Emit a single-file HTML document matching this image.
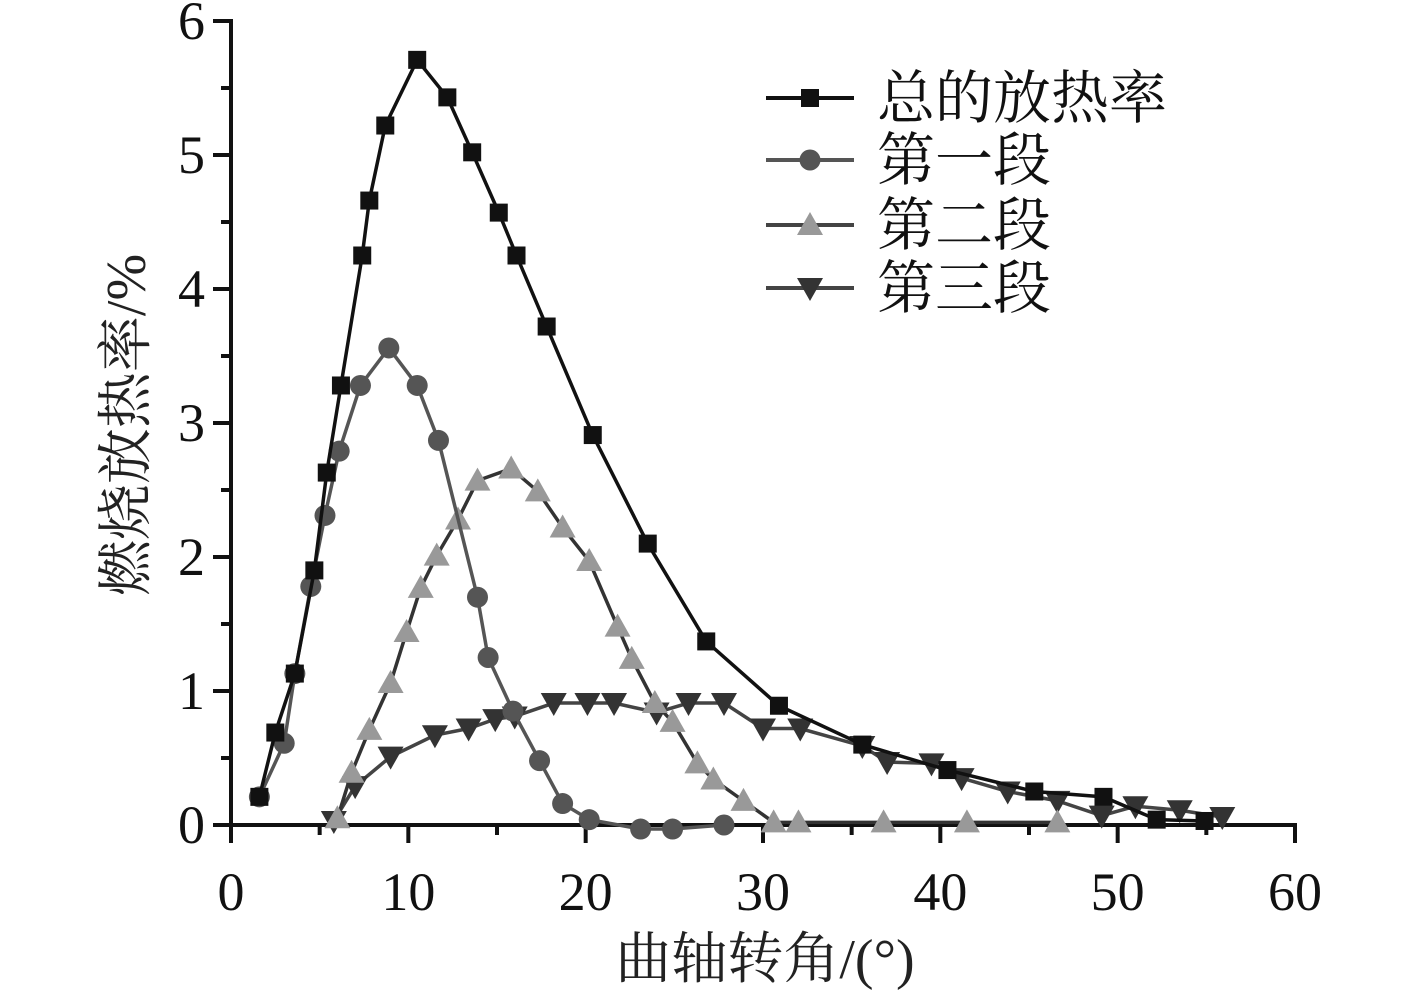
<!DOCTYPE html>
<html><head><meta charset="utf-8"><style>
html,body{margin:0;padding:0;background:#fff;}
svg text{font-family:"Liberation Serif","Noto Serif CJK SC",serif;}
</style></head><body>
<svg id="chart" width="1417" height="990" viewBox="0 0 1417 990" xmlns="http://www.w3.org/2000/svg">
<g id="axes"></g>
<g id="series"></g>
<g id="legend"></g>
<text transform="translate(145,425) rotate(-90)" text-anchor="middle" font-size="56" fill="#222">燃烧放热率/%</text>
<text x="765" y="978" text-anchor="middle" font-size="56" fill="#222">曲轴转角/(°)</text>
</svg>
<script>
const xTicks=[0,10,20,30,40,50,60];
const yTicks=[0,1,2,3,4,5,6];
const totalX=[1.6,2.5,3.6,4.7,5.4,6.2,7.4,7.8,8.7,10.5,12.2,13.6,15.1,16.1,17.8,20.4,23.5,26.8,30.9,35.6,40.4,45.3,49.2,52.2,54.9];
const totalY=[0.21,0.69,1.13,1.9,2.63,3.28,4.25,4.66,5.22,5.71,5.43,5.02,4.57,4.25,3.72,2.91,2.1,1.37,0.89,0.6,0.41,0.25,0.21,0.04,0.03];
const s1X=[1.6,3.0,3.6,4.5,5.3,6.1,7.3,8.9,10.5,11.7,13.9,14.5,15.9,17.4,18.7,20.2,23.1,24.9,27.8];
const s1Y=[0.21,0.61,1.13,1.78,2.31,2.79,3.28,3.56,3.28,2.87,1.7,1.25,0.85,0.48,0.16,0.04,-0.03,-0.03,0.0];
const s2X=[6.0,6.8,7.8,9.0,9.9,10.7,11.6,12.8,13.9,15.8,17.3,18.7,20.2,21.8,22.6,23.9,24.9,26.3,27.2,28.9,30.6,32.0,36.8,41.5,46.6];
const s2Y=[0.05,0.39,0.71,1.06,1.44,1.77,2.01,2.28,2.57,2.66,2.49,2.22,1.97,1.48,1.24,0.91,0.77,0.46,0.34,0.18,0.02,0.02,0.02,0.02,0.02];
const s3X=[5.8,7.0,9.0,11.5,13.4,14.9,16.0,18.2,20.1,21.6,24.0,25.8,27.8,30.0,32.1,35.6,37.0,39.5,41.2,43.8,46.6,49.1,51.0,53.5,55.9];
const s3Y=[0.03,0.29,0.51,0.67,0.72,0.79,0.81,0.91,0.91,0.91,0.84,0.91,0.91,0.72,0.72,0.59,0.47,0.46,0.35,0.25,0.18,0.07,0.14,0.11,0.06];
const legendLabels=['总的放热率','第一段','第二段','第三段'];

const NS='http://www.w3.org/2000/svg';
const X=v=>231+v*(1295-231)/60;
const Y=v=>825-v*(825-21)/6;
function mk(tag,attrs,parent){const e=document.createElementNS(NS,tag);for(const k in attrs)e.setAttribute(k,attrs[k]);parent.appendChild(e);return e;}
const axes=document.getElementById('axes');
let e;
e=mk('line',{x1:X(0),y1:Y(0),x2:X(60)+2,y2:Y(0),stroke:'#111','stroke-width':4},axes);

e=mk('line',{x1:X(0),y1:Y(0)+2,x2:X(0),y2:Y(6)-2,stroke:'#111','stroke-width':4},axes);

xTicks.forEach((t,i)=>{
  e=mk('line',{x1:X(t),y1:Y(0),x2:X(t),y2:Y(0)+18,stroke:'#111','stroke-width':4},axes);
  
  if(i<xTicks.length-1){e=mk('line',{x1:X(t+5),y1:Y(0),x2:X(t+5),y2:Y(0)+10,stroke:'#111','stroke-width':4},axes);
  }
  e=mk('text',{x:X(t),y:910,'text-anchor':'middle','font-size':54,fill:'#111'},axes);e.textContent=t;
  
});
yTicks.forEach((t,i)=>{
  e=mk('line',{x1:X(0)-18,y1:Y(t),x2:X(0),y2:Y(t),stroke:'#111','stroke-width':4},axes);
  
  if(i<yTicks.length-1){e=mk('line',{x1:X(0)-10,y1:Y(t+0.5),x2:X(0),y2:Y(t+0.5),stroke:'#111','stroke-width':4},axes);
  }
  e=mk('text',{x:205,y:Y(t)+18,'text-anchor':'end','font-size':54,fill:'#111'},axes);e.textContent=t;
  
});
const ser=document.getElementById('series');
function marker(type,cx,cy,fill,parent){
  let m;
  if(type==='sq')m=mk('rect',{x:cx-9,y:cy-9,width:18,height:18,fill:fill},parent);
  else if(type==='ci')m=mk('circle',{cx:cx,cy:cy,r:10.5,fill:fill},parent);
  else if(type==='up')m=mk('polygon',{points:`${cx},${cy-13} ${cx+13},${cy+10} ${cx-13},${cy+10}`,fill:fill},parent);
  else m=mk('polygon',{points:`${cx-13},${cy-10} ${cx+13},${cy-10} ${cx},${cy+13}`,fill:fill},parent);
  return m;
}
const specs=[
 {xs:s3X,ys:s3Y,line:'#444',mf:'#333',t:'dn',n:'stage3'},
 {xs:s2X,ys:s2Y,line:'#333',mf:'#999',t:'up',n:'stage2'},
 {xs:s1X,ys:s1Y,line:'#555',mf:'#555',t:'ci',n:'stage1'},
 {xs:totalX,ys:totalY,line:'#111',mf:'#111',t:'sq',n:'total'}];
specs.forEach(s=>{
  const g=mk('g',{},ser);
  
  
  const p=mk('polyline',{points:s.xs.map((x,i)=>X(x)+','+Y(s.ys[i])).join(' '),fill:'none',stroke:s.line,'stroke-width':3.5},g);
  
  
  s.xs.forEach((x,i)=>{const m=marker(s.t,X(x),Y(s.ys[i]),s.mf,g);
    
    });
});
const leg=document.getElementById('legend');
const lspec=[specs[3],specs[2],specs[1],specs[0]];
const ly=[98,160,225,288];
lspec.forEach((s,i)=>{
  const g=mk('g',{},leg);
  
  
  mk('line',{x1:766,y1:ly[i],x2:854,y2:ly[i],stroke:s.line==='#333'?'#444':s.line,'stroke-width':4},g);
  marker(s.t,810,ly[i],s.mf,g);
  const t=mk('text',{x:877,y:ly[i]+20,'font-size':58,fill:'#111'},g);t.textContent=legendLabels[i];
});
</script>
</body></html>
